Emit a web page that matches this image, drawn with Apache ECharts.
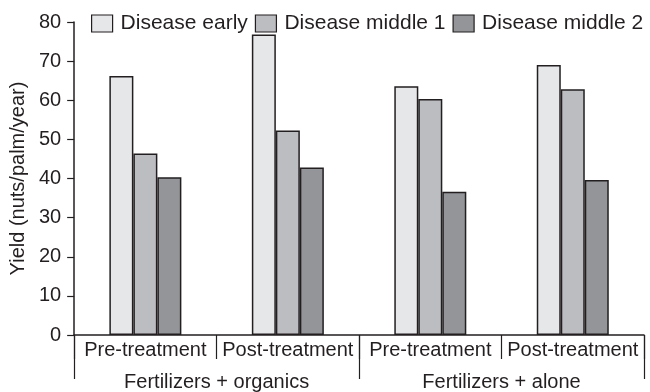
<!DOCTYPE html>
<html>
<head>
<meta charset="utf-8">
<script src="https://cdn.jsdelivr.net/npm/echarts@6/dist/echarts.min.js"></script>
<style>html,body{margin:0;padding:0;background:#fff}#c{width:650px;height:392px}</style>
</head>
<body>
<div id="c"></div>
<script>
const categories = ['Pre-treatment', 'Post-treatment', 'Pre-treatment', 'Post-treatment'];
const groups = ['Fertilizers + organics', 'Fertilizers + alone'];
const seriesNames = ['Disease early', 'Disease middle 1', 'Disease middle 2'];
const diseaseEarly = [66.2, 76.8, 63.6, 69.0];
const diseaseMiddle1 = [46.4, 52.3, 60.3, 62.8];
const diseaseMiddle2 = [40.3, 42.8, 36.6, 39.6];
const yTicks = [0, 10, 20, 30, 40, 50, 60, 70, 80];

const colors = ['#e6e7e9', '#bcbdc1', '#939598'];
const ink = '#231f20';
const font = 'Liberation Sans';
const values = [diseaseEarly, diseaseMiddle1, diseaseMiddle2];

const chart = echarts.init(document.getElementById('c'), null, {renderer: 'canvas'});
chart.setOption({
  animation: false,
  backgroundColor: '#fff',
  textStyle: {fontFamily: font, color: ink},
  grid: {left: 71, right: 6, top: 22, bottom: 55},
  legend: {
    left: 91, top: 13, padding: 0, width: 600,
    icon: 'rect',
    itemWidth: 21, itemHeight: 17, itemGap: 7,
    textStyle: {fontFamily: font, fontSize: 21, color: ink, padding: [0, 0, 0, 3]},
    data: seriesNames.map((n, i) => ({name: n, itemStyle: {color: colors[i], borderColor: ink, borderWidth: 1.2}}))
  },
  xAxis: [{
    type: 'category',
    data: categories,
    position: 'bottom',
    axisLine: {show: true, lineStyle: {color: ink, width: 1.5}},
    axisTick: {show: true, length: 24, alignWithLabel: false, lineStyle: {color: ink, width: 1.2}},
    axisLabel: {fontFamily: font, fontSize: 20, color: ink, margin: 5, interval: 0}
  }, {
    type: 'category',
    data: groups,
    position: 'bottom',
    offset: 0,
    axisLine: {show: false},
    axisTick: {show: true, length: 44, lineStyle: {color: ink, width: 1.2}},
    axisLabel: {fontFamily: font, fontSize: 20, color: ink, margin: 37, interval: 0}
  }],
  yAxis: {
    type: 'value',
    min: yTicks[0], max: yTicks[yTicks.length - 1], interval: 10,
    name: 'Yield (nuts/palm/year)',
    nameLocation: 'middle',
    nameGap: 42,
    nameTextStyle: {fontFamily: font, fontSize: 20, color: ink},
    splitLine: {show: false},
    axisLine: {show: true, lineStyle: {color: ink, width: 1.5}},
    axisTick: {show: true, inside: false, length: 7, lineStyle: {color: ink, width: 1.2}},
    axisLabel: {fontFamily: font, fontSize: 20, color: ink, margin: 13}
  },
  series: seriesNames.map((n, i) => ({
    name: n,
    type: 'bar',
    xAxisIndex: 0,
    data: values[i],
    barWidth: 24,
    barGap: '0%',
    itemStyle: {color: colors[i], borderColor: ink, borderWidth: 1.5}
  }))
});
</script>
</body>
</html>
